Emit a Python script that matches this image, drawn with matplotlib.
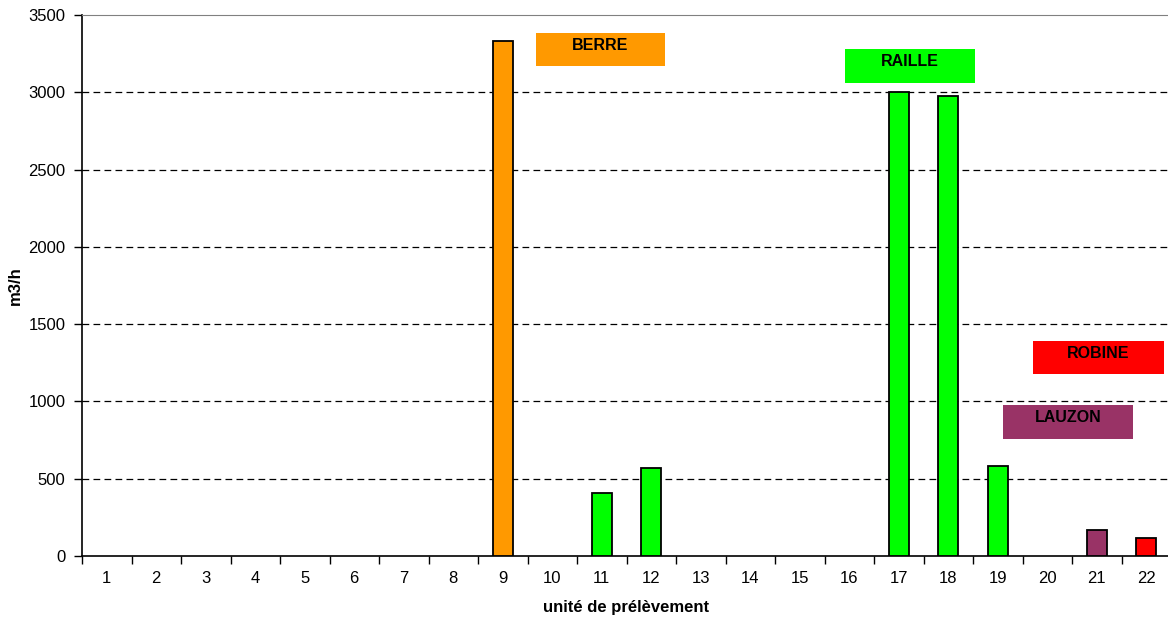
import matplotlib.pyplot as plt
from matplotlib.patches import Rectangle
from matplotlib.ticker import FixedLocator, NullFormatter

plt.rcParams['font.family'] = ['Liberation Sans', 'DejaVu Sans']

# Flow per withdrawal unit (m3/h)
units = list(range(1, 23))
flows = [0, 0, 0, 0, 0, 0, 0, 0, 3330, 0, 405, 570, 0, 0, 0, 0, 3000, 2975, 585, 0, 168, 114]
basin_of_unit = {9: 'BERRE', 11: 'RAILLE', 12: 'RAILLE', 17: 'RAILLE', 18: 'RAILLE',
                 19: 'RAILLE', 21: 'LAUZON', 22: 'ROBINE'}
basins = ['BERRE', 'RAILLE', 'ROBINE', 'LAUZON']
basin_colors = {'BERRE': '#FF9900', 'RAILLE': '#00FF00', 'ROBINE': '#FF0000', 'LAUZON': '#993366'}

W, H = 1168, 618
fig = plt.figure(figsize=(W / 100, H / 100), dpi=100)
ax = fig.add_axes([82 / W, (H - 556) / H, (1171 - 82) / W, (556 - 15) / H])

for u, f in zip(units, flows):
    if f > 0:
        ax.bar(u, f, width=0.41, color=basin_colors[basin_of_unit[u]],
               edgecolor='black', linewidth=1.3, zorder=3)

# Basin legend boxes (x0, x1, y0, y1 in data units)
box_pos = {
    'BERRE': (9.67, 12.28, 3168, 3381),
    'RAILLE': (15.91, 18.54, 3058, 3278),
    'ROBINE': (19.71, 22.36, 1177, 1390),
    'LAUZON': (19.11, 21.73, 756, 976),
}
for name in basins:
    x0, x1, y0, y1 = box_pos[name]
    ax.add_patch(Rectangle((x0, y0), x1 - x0, y1 - y0, facecolor=basin_colors[name],
                           edgecolor='none', zorder=4, clip_on=False))
    ax.text((x0 + x1) / 2, y1 - 32, name, ha='center', va='top', fontsize=11.5,
            fontweight='bold', color='black', zorder=5)

ax.set_xlim(0.5, 22.5)
ax.set_ylim(0, 3500)
ax.set_yticks(range(0, 3501, 500))

# Tick marks between categories, labels centred on them
ax.xaxis.set_major_locator(FixedLocator([i + 0.5 for i in range(0, 23)]))
ax.xaxis.set_major_formatter(NullFormatter())
ax.xaxis.set_minor_locator(FixedLocator(units))
ax.set_xticklabels([str(u) for u in units], minor=True)
ax.tick_params(axis='x', which='major', length=6, width=1, direction='out')
ax.tick_params(axis='x', which='minor', length=0, pad=11, labelsize=12)
ax.tick_params(axis='y', length=6, width=1, direction='out', pad=6, labelsize=12)

for v in range(500, 3001, 500):
    ax.axhline(v, color='black', linestyle=(0, (5.4, 3.4)), linewidth=0.9, zorder=1)

ax.spines['right'].set_visible(False)
ax.spines['top'].set_color('#808080')
ax.spines['left'].set_linewidth(1.2)
ax.spines['bottom'].set_linewidth(1.2)

ax.set_ylabel('m3/h', fontsize=12, fontweight='bold')
ax.yaxis.set_label_coords(-0.054, 0.5)
ax.set_xlabel('unité de prélèvement', fontsize=12, fontweight='bold', labelpad=10)

fig.savefig('out.png', dpi=100)
